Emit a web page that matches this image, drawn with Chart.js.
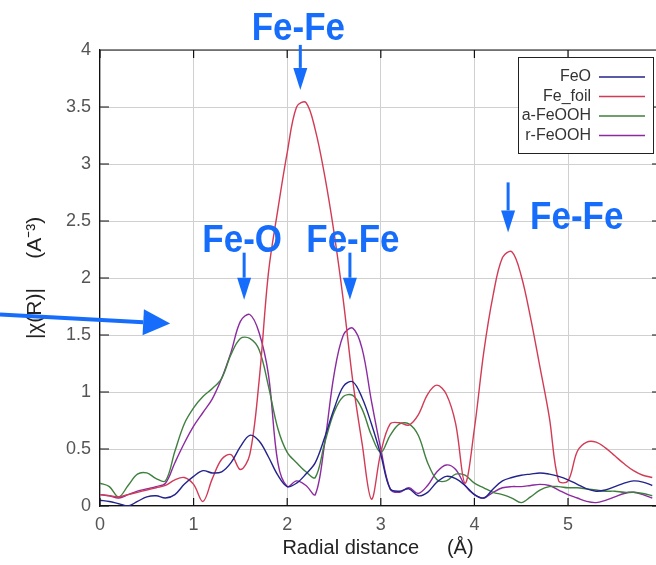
<!DOCTYPE html>
<html>
<head>
<meta charset="utf-8">
<title>|χ(R)| vs radial distance</title>
<script src="https://cdn.jsdelivr.net/npm/chart.js@4.4.1/dist/chart.umd.min.js"></script>
<style>
  html, body { margin: 0; padding: 0; background: #fff; overflow: hidden; }
  canvas { display: block; }
</style>
</head>
<body>
<canvas id="chiChart" width="656" height="565"></canvas>
<script>
// values: R in Å, |χ(R)| in Å^-3
const radialDistance = [
  0.0, 0.1, 0.2, 0.3, 0.4, 0.5, 0.6, 0.7, 0.8, 0.9,
  1.0, 1.1, 1.2, 1.3, 1.4, 1.5, 1.6, 1.7, 1.8, 1.9,
  2.0, 2.1, 2.2, 2.3, 2.4, 2.5, 2.6, 2.7, 2.8, 2.9,
  3.0, 3.1, 3.2, 3.3, 3.4, 3.5, 3.6, 3.7, 3.8, 3.9,
  4.0, 4.1, 4.2, 4.3, 4.4, 4.5, 4.6, 4.7, 4.8, 4.9,
  5.0, 5.1, 5.2, 5.3, 5.4, 5.5, 5.6, 5.7, 5.8, 5.9
];

const feO = [
  0.05, 0.04, 0.02, 0.00, 0.04, 0.08, 0.09, 0.07, 0.10, 0.19,
  0.26, 0.31, 0.29, 0.30, 0.38, 0.52, 0.62, 0.57, 0.43, 0.27,
  0.17, 0.20, 0.28, 0.38, 0.60, 0.85, 1.05, 1.09, 0.95, 0.72,
  0.45, 0.15, 0.13, 0.15, 0.09, 0.12, 0.21, 0.26, 0.24, 0.18,
  0.10, 0.07, 0.15, 0.22, 0.25, 0.27, 0.28, 0.29, 0.28, 0.26,
  0.23, 0.19, 0.15, 0.13, 0.14, 0.17, 0.20, 0.22, 0.21, 0.18
];

const feFoil = [
  0.10, 0.09, 0.08, 0.10, 0.12, 0.14, 0.16, 0.18, 0.23, 0.25,
  0.19, 0.04, 0.24, 0.41, 0.45, 0.32, 0.45, 1.10, 2.05, 2.60,
  3.10, 3.50, 3.54, 3.30, 2.90, 2.40, 1.80, 1.10, 0.55, 0.06,
  0.47, 0.72, 0.73, 0.71, 0.80, 0.98, 1.06, 0.98, 0.72, 0.20,
  0.68, 1.35, 1.85, 2.18, 2.23, 2.02, 1.65, 1.22, 0.78, 0.22,
  0.22, 0.48, 0.56, 0.56, 0.51, 0.44, 0.37, 0.31, 0.27, 0.25
];

const aFeOOH = [
  0.20, 0.17, 0.08, 0.18, 0.28, 0.29, 0.24, 0.22, 0.48, 0.72,
  0.86, 0.96, 1.03, 1.12, 1.33, 1.47, 1.47, 1.37, 1.05, 0.68,
  0.47, 0.38, 0.30, 0.25, 0.55, 0.82, 0.96, 0.97, 0.85, 0.62,
  0.47, 0.62, 0.72, 0.72, 0.62, 0.38, 0.23, 0.22, 0.28, 0.27,
  0.20, 0.16, 0.12, 0.10, 0.07, 0.03, 0.08, 0.14, 0.17, 0.17,
  0.16, 0.16, 0.15, 0.14, 0.13, 0.13, 0.12, 0.12, 0.11, 0.09
];

const rFeOOH = [
  0.10, 0.09, 0.07, 0.10, 0.13, 0.15, 0.17, 0.20, 0.38, 0.55,
  0.70, 0.82, 0.94, 1.12, 1.35, 1.62, 1.68, 1.52, 1.15, 0.38,
  0.17, 0.22, 0.18, 0.10, 0.55, 1.15, 1.50, 1.56, 1.38, 0.92,
  0.50, 0.15, 0.12, 0.16, 0.11, 0.18, 0.30, 0.36, 0.32, 0.18,
  0.10, 0.07, 0.12, 0.16, 0.17, 0.17, 0.18, 0.19, 0.18, 0.14,
  0.10, 0.07, 0.04, 0.03, 0.05, 0.08, 0.11, 0.12, 0.10, 0.07
];

const seriesNames = ['FeO', 'Fe_foil', 'a-FeOOH', 'r-FeOOH'];
const seriesValues = [feO, feFoil, aFeOOH, rFeOOH];
const seriesColors = ['#23238c', '#d23b55', '#3f7f3f', '#8c2aa0'];

// axis ranges (the right edge of the plot is cut off in the figure)
const rRange = [0, 5.94];
const chiRange = [0, 4];

// blue peak markers
const peakLabels = ['Fe-Fe', 'Fe-O', 'Fe-Fe', 'Fe-Fe'];
const peakR = [2.14, 1.54, 2.67, 4.36];
const peakTip = [3.65, 1.81, 1.81, 2.40];
const pointerTip = [0.75, 1.60];

const MARK_BLUE = '#166dfc';
const peakLayout = [
  { len: 45, dx: -2, dy: -50, align: 'center' },
  { len: 47, dx: -2, dy: -48, align: 'center' },
  { len: 47, dx: 3, dy: -48, align: 'center' },
  { len: 50, dx: 22, dy: -3, align: 'left' }
];

function drawArrow(ctx, x0, y0, x1, y1, shaft, headLen, headW) {
  const ang = Math.atan2(y1 - y0, x1 - x0);
  const bx = x1 - Math.cos(ang) * headLen;
  const by = y1 - Math.sin(ang) * headLen;
  ctx.lineWidth = shaft;
  ctx.beginPath();
  ctx.moveTo(x0, y0);
  ctx.lineTo(bx, by);
  ctx.stroke();
  ctx.beginPath();
  ctx.moveTo(x1, y1);
  ctx.lineTo(bx + Math.sin(ang) * headW / 2, by - Math.cos(ang) * headW / 2);
  ctx.lineTo(bx - Math.sin(ang) * headW / 2, by + Math.cos(ang) * headW / 2);
  ctx.closePath();
  ctx.fill();
}

// top border + gnuplot style inward ticks
const framePlugin = {
  id: 'frame',
  afterDatasetsDraw(chart) {
    const { ctx, chartArea: a, scales: { x, y } } = chart;
    ctx.save();
    ctx.strokeStyle = '#111';
    ctx.lineWidth = 1.2;
    ctx.beginPath();
    ctx.moveTo(a.left, a.top);
    ctx.lineTo(a.right, a.top);
    x.ticks.forEach(t => {
      const px = x.getPixelForValue(t.value);
      ctx.moveTo(px, a.bottom);
      ctx.lineTo(px, a.bottom - 8);
      ctx.moveTo(px, a.top);
      ctx.lineTo(px, a.top + 8);
    });
    y.ticks.forEach(t => {
      const py = y.getPixelForValue(t.value);
      ctx.moveTo(a.left, py);
      ctx.lineTo(a.left + 9, py);
      ctx.moveTo(a.right, py);
      ctx.lineTo(a.right - 4, py);
    });
    ctx.stroke();
    ctx.restore();
  }
};

// legend box in the top right corner, text first then line sample
const boxLegendPlugin = {
  id: 'boxLegend',
  afterDraw(chart) {
    const { ctx, chartArea: a } = chart;
    const left = a.right - 138, top = a.top + 7, w = 135, h = 96;
    ctx.save();
    ctx.fillStyle = '#fff';
    ctx.fillRect(left, top, w, h);
    ctx.strokeStyle = '#222';
    ctx.lineWidth = 1;
    ctx.strokeRect(left + 0.5, top + 0.5, w, h);
    ctx.font = '16px "Liberation Sans", Arial, sans-serif';
    ctx.textAlign = 'right';
    ctx.textBaseline = 'middle';
    chart.data.datasets.forEach((ds, i) => {
      const rowY = top + 20 + i * 19.5;
      ctx.fillStyle = '#333';
      ctx.fillText(ds.label, left + 73, rowY);
      ctx.strokeStyle = ds.borderColor;
      ctx.lineWidth = 1.4;
      ctx.beginPath();
      ctx.moveTo(left + 81, rowY);
      ctx.lineTo(left + 127, rowY);
      ctx.stroke();
    });
    ctx.restore();
  }
};

const peakMarkPlugin = {
  id: 'peakMarks',
  afterDraw(chart) {
    const { ctx, scales: { x, y } } = chart;
    ctx.save();
    ctx.fillStyle = MARK_BLUE;
    ctx.strokeStyle = MARK_BLUE;
    ctx.font = 'bold 38px "Liberation Sans", Arial, sans-serif';
    ctx.textBaseline = 'alphabetic';
    peakLabels.forEach((label, i) => {
      const lay = peakLayout[i];
      const px = x.getPixelForValue(peakR[i]);
      const py = y.getPixelForValue(peakTip[i]);
      drawArrow(ctx, px, py - lay.len, px, py, 3, 22, 14);
      // the labels in the figure are a little condensed
      ctx.save();
      ctx.translate(px + lay.dx, py + lay.dy);
      ctx.scale(0.92, 1);
      ctx.textAlign = lay.align;
      ctx.fillText(label, 0, 0);
      ctx.restore();
    });
    const tx = x.getPixelForValue(pointerTip[0]);
    const ty = y.getPixelForValue(pointerTip[1]);
    drawArrow(ctx, 0, ty - 9, tx, ty, 4, 27, 26);
    ctx.restore();
  }
};

const tickFont = { family: '"Liberation Sans", Arial, sans-serif', size: 18 };

new Chart(document.getElementById('chiChart'), {
  type: 'line',
  data: {
    datasets: seriesNames.map((name, i) => ({
      label: name,
      data: radialDistance.map((r, k) => ({ x: r, y: seriesValues[i][k] })),
      borderColor: seriesColors[i],
      backgroundColor: seriesColors[i],
      borderWidth: 1.4,
      pointRadius: 0,
      tension: 0.35,
      fill: false
    }))
  },
  options: {
    responsive: false,
    animation: false,
    devicePixelRatio: 1,
    layout: { padding: { top: 50, right: 0, bottom: 0, left: 0 } },
    plugins: {
      legend: { display: false },
      tooltip: { enabled: false }
    },
    scales: {
      x: {
        type: 'linear',
        min: rRange[0],
        max: rRange[1],
        afterFit: s => { s.height = 59; },
        border: { color: '#111', width: 1.2 },
        grid: { color: '#d0d0d0', lineWidth: 1, drawTicks: false },
        ticks: {
          stepSize: 1,
          includeBounds: false,
          maxRotation: 0,
          padding: 8,
          color: '#555',
          font: tickFont,
          callback: v => String(v)
        },
        title: {
          display: true,
          text: 'Radial distance     (Å)',
          color: '#222',
          font: { family: '"Liberation Sans", Arial, sans-serif', size: 20 },
          padding: { top: 0, bottom: 5 }
        }
      },
      y: {
        min: chiRange[0],
        max: chiRange[1],
        afterFit: s => { s.width = 100; },
        border: { color: '#111', width: 1.2 },
        grid: { color: '#d0d0d0', lineWidth: 1, drawTicks: false },
        ticks: {
          stepSize: 0.5,
          padding: 9,
          color: '#555',
          font: tickFont,
          callback: v => String(v)
        },
        title: {
          display: true,
          text: '|χ(R)|     (A⁻³)',
          color: '#222',
          font: { family: '"Liberation Sans", Arial, sans-serif', size: 21 },
          padding: { top: 23, bottom: 0 }
        }
      }
    }
  },
  plugins: [framePlugin, boxLegendPlugin, peakMarkPlugin]
});
</script>
</body>
</html>
